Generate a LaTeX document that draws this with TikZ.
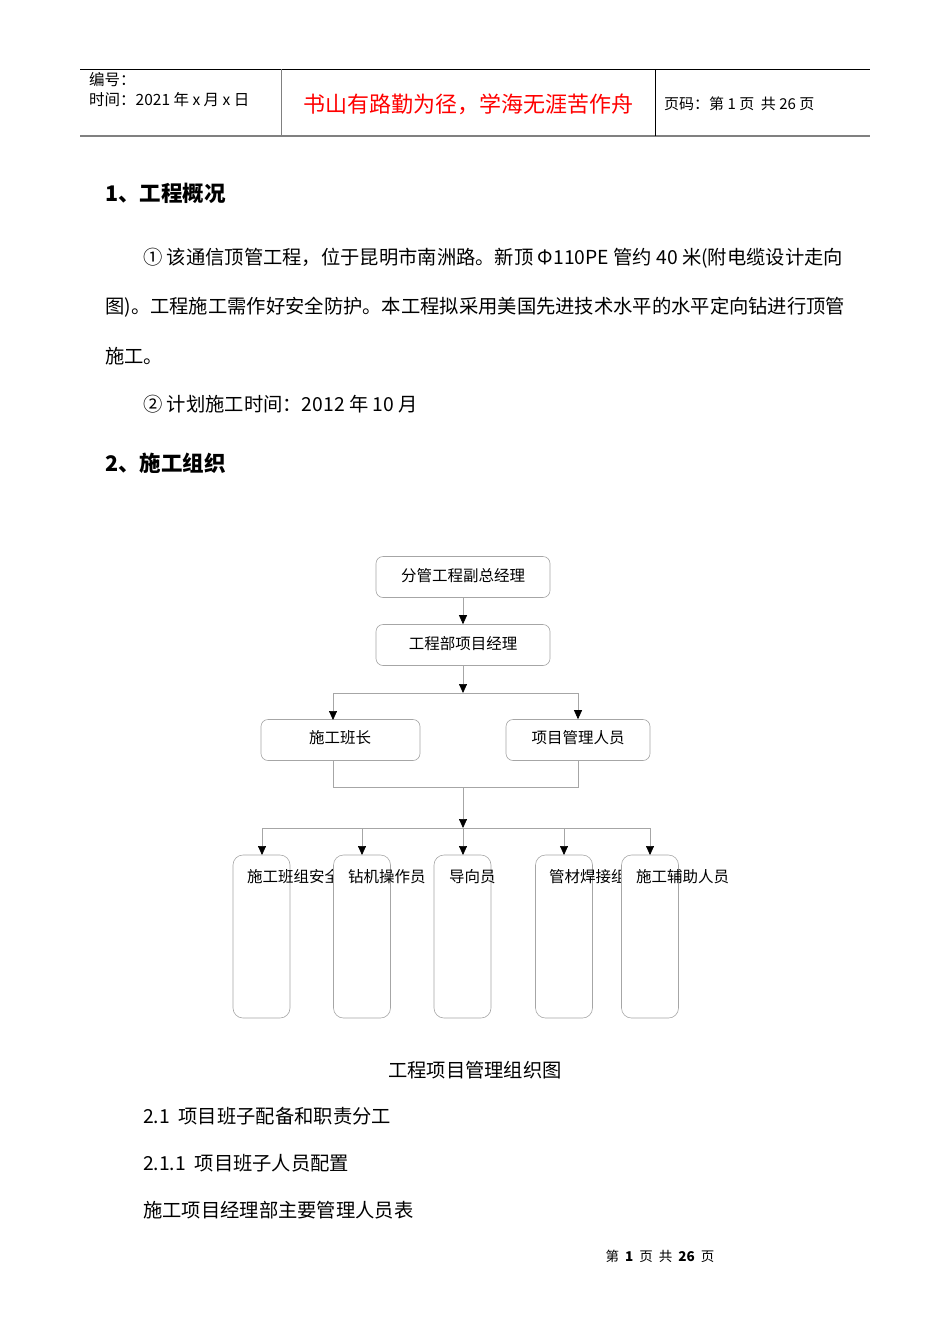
\documentclass[tikz,border=0pt]{standalone}
\usepackage{fontspec}
\setmainfont{Noto Sans CJK SC}
\usetikzlibrary{arrows.meta}
\begin{document}
\begin{tikzpicture}[x=1pt,y=-1pt,
  txt/.style={anchor=west,inner sep=0pt,font=\fontsize{19.3}{19.3}\selectfont},
  hd/.style={anchor=west,inner sep=0pt,font=\fontsize{15.5}{15.5}\selectfont},
  sec/.style={anchor=west,inner sep=0pt,font=\fontsize{21.5}{21.5}\selectfont\bfseries},
  box/.style={draw=gray!70,fill=white,rounded corners=7pt,line width=0.6pt},
  lbl/.style={inner sep=0pt,font=\fontsize{15.5}{15.5}\selectfont},
  con/.style={draw=gray!70,line width=0.7pt},
  arr/.style={con,-{Triangle[length=9pt,width=8pt,fill=black,color=black]}}]
\useasboundingbox (0,0) rectangle (950,1344);
\fill[white] (0,0) rectangle (950,1344);
% header
\draw[line width=0.8pt] (80,69) -- (870,69);
\draw[gray,line width=1.2pt] (80,136) -- (870,136);
\draw[gray,line width=0.8pt] (281,69) -- (281,136);
\draw[line width=0.6pt] (655,69) -- (655,136);
\node[hd] (h1) at (89,80) {编号：};
\node[hd] (h2) at (89,100) {时间：2021 年 x 月 x 日};
\node[anchor=center,inner sep=0pt,text=red,font=\fontsize{22}{22}\selectfont] (h3) at (468,104) {书山有路勤为径，学海无涯苦作舟};
\node[hd,font=\fontsize{15}{15}\selectfont] (h4) at (664,104) {页码：第 1 页 \ 共 26 页};
% text
\node[sec] (s1) at (105,193) {1、工程概况};
\node[txt] (p1) at (143,258) {① 该通信顶管工程，位于昆明市南洲路。新顶 Φ110PE 管约 40 米(附电缆设计走向};
\node[txt] (p2) at (105,307) {图)。工程施工需作好安全防护。本工程拟采用美国先进技术水平的水平定向钻进行顶管};
\node[txt] (p3) at (105,356) {施工。};
\node[txt] (p4) at (143,404) {② 计划施工时间：2012 年 10 月};
\node[sec] (s2) at (105,463) {2、施工组织};
% chart
\node[box,minimum width=174pt,minimum height=41pt] (b1) at (463,577) {};
\node[lbl] at (463,576) {分管工程副总经理};
\node[box,minimum width=174pt,minimum height=41pt] (b2) at (463,645) {};
\node[lbl] at (463,644) {工程部项目经理};
\node[box,minimum width=159pt,minimum height=41pt] (b3) at (340.5,740) {};
\node[lbl] at (340,738) {施工班长};
\node[box,minimum width=144pt,minimum height=41pt] (b4) at (578,740) {};
\node[lbl] at (578,738) {项目管理人员};
\draw[arr] (b1) -- (b2);
\coordinate (j1) at (463,693);
\draw[arr] (b2) -- (j1);
\draw[con] (333,693) -- (578,693);
\draw[arr] (333,693) -- (333,720);
\draw[arr] (578,693) -- (b4.north);
\draw[con] (333,761) -- (333,787) -- (578,787) -- (578,761);
\coordinate (j2) at (463,828);
\draw[arr] (463,787) -- (j2);
\draw[con] (262,828) -- (650,828);
\foreach \n/\cx/\ax/\tx/\t in {c1/261.5/262/247/施工班组安全,c2/362/362/348/钻机操作员,c3/462.5/463/449/导向员,c4/564/564/549/管材焊接组,c5/650/650/636/施工辅助人员}{
  \node[box,minimum width=57pt,minimum height=163pt,rounded corners=10pt] (\n) at (\cx,936.5) {};
  \node[lbl,anchor=west] at (\tx,877) {\t};
  \draw[arr] (\ax,828) -- (\ax,855);
}
\node[txt,anchor=center] (cap) at (475,1070) {工程项目管理组织图};
\node[txt] (t1) at (143,1116) {2.1 \ 项目班子配备和职责分工};
\node[txt] (t2) at (143,1163) {2.1.1 \ 项目班子人员配置};
\node[txt] (t3) at (143,1210) {施工项目经理部主要管理人员表};
\node[anchor=center,inner sep=0pt,font=\fontsize{13.5}{13.5}\selectfont] (ft) at (660,1256) {第 \ \textbf{1} \ 页 \ 共 \ \textbf{26} \ 页};
\end{tikzpicture}
\end{document}
